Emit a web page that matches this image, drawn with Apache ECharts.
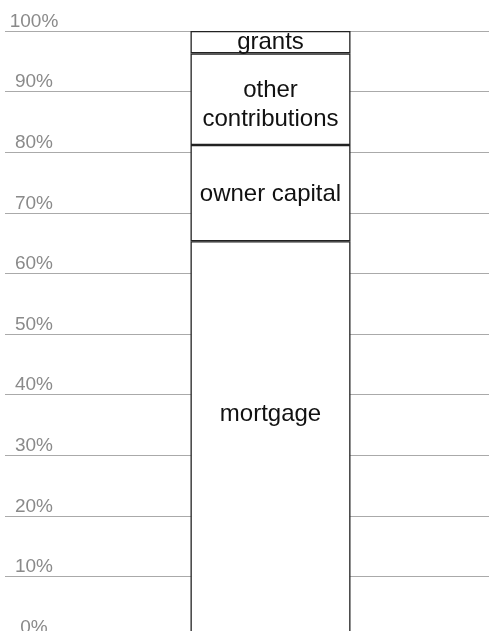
<!DOCTYPE html>
<html style="height: 100%">
<head>
    <meta charset="UTF-8">
    <script src="https://cdn.jsdelivr.net/npm/echarts@6/dist/echarts.min.js"></script>
</head>
<body style="margin: 0; background-color: #ffffff">
    <div id="paint" style="width: 489px; height: 631px;"></div>
<script>
    // one stacked column, values in percent (bottom to top)
    var categories = ['funding'];
    var segmentNames = ['mortgage', 'owner capital', 'other contributions', 'grants'];
    var mortgage = [65.3];
    var ownerCapital = [15.9];
    var otherContributions = [15.1];
    var grants = [3.7];
    var tickLabels = ['0%', '10%', '20%', '30%', '40%', '50%', '60%', '70%', '80%', '90%', '100%'];

    var values = [mortgage, ownerCapital, otherContributions, grants];
    // label nudges per segment
    var offsets = [[0, -25], [0, 1], [0, 6], [0, 0]];
    var labelText = ['mortgage', 'owner capital', 'other\ncontributions', 'grants'];

    var series = segmentNames.map(function (name, i) {
        return {
            name: name,
            type: 'bar',
            stack: 'total',
            barWidth: 160,
            data: values[i],
            itemStyle: {
                color: '#ffffff',
                borderColor: '#222222',
                borderWidth: 1.3
            },
            label: {
                show: true,
                position: 'inside',
                offset: offsets[i],
                formatter: labelText[i],
                color: '#111111',
                fontSize: 24,
                lineHeight: 29,
                fontFamily: 'Arial, "Liberation Sans", sans-serif'
            }
        };
    });

    echarts.init(document.getElementById('paint')).setOption({
        backgroundColor: '#ffffff',
        animation: false,
        grid: {
            left: 5,
            top: 31,
            width: 531,
            height: 606,
            outerBoundsMode: 'none'
        },
        xAxis: {
            type: 'category',
            data: categories,
            show: false
        },
        yAxis: {
            type: 'value',
            min: 0,
            max: 100,
            interval: 10,
            axisLine: {show: false},
            axisTick: {show: false},
            axisLabel: {
                inside: true,
                margin: 29,
                align: 'center',
                verticalAlign: 'bottom',
                color: '#8a8a8a',
                fontSize: 19,
                fontFamily: 'Arial, "Liberation Sans", sans-serif',
                formatter: function (v) {
                    return tickLabels[Math.round(v / 10)];
                }
            },
            splitLine: {
                lineStyle: {color: '#aaaaaa', width: 1}
            }
        },
        series: series
    });
</script>
</body>
</html>
